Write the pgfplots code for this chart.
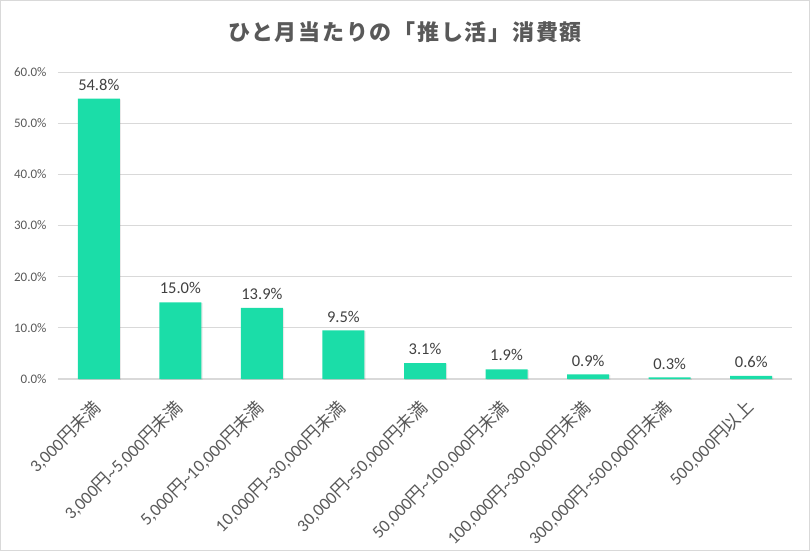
\documentclass[border=0pt]{standalone}
\usepackage{fontspec}
\setmainfont{Carlito}
\newfontfamily\cjk{Noto Sans CJK JP}
\usepackage{pgfplots}
\pgfplotsset{compat=1.18}
\usetikzlibrary{shadows}
\definecolor{barc}{HTML}{1BDDA8}
\definecolor{gridc}{HTML}{D9D9D9}
\definecolor{txt}{HTML}{595959}
\definecolor{lab}{HTML}{404040}
\newcommand{\T}{\textasciitilde}
\begin{document}
\begin{tikzpicture}
\useasboundingbox (-58pt,-172pt) rectangle (752pt,379pt);
\draw[gridc, line width=1.2pt] (-57.4pt,-171.4pt) rectangle (751.4pt,378.4pt);
\begin{axis}[
  at={(0pt,0pt)}, anchor=south west,
  scale only axis, width=734pt, height=307pt,
  xmin=-0.5, xmax=8.5, ymin=0, ymax=60,
  axis line style={draw=none},
  ytick={0,10,...,60},
  yticklabel={\pgfmathprintnumber[fixed,precision=1,zerofill]{\tick}\%},
  /pgf/number format/assume math mode=true,
  yticklabel style={font=\fontsize{13}{15}\selectfont, text=txt, xshift=-8pt},
  ymajorgrids, grid style={gridc, line width=1pt},
  major tick length=0pt,
  xtick=data,
  xticklabels={
    {3,000{\cjk 円未満}},
    {3,000{\cjk 円}\T5,000{\cjk 円未満}},
    {5,000{\cjk 円}\T10,000{\cjk 円未満}},
    {10,000{\cjk 円}\T30,000{\cjk 円未満}},
    {30,000{\cjk 円}\T50,000{\cjk 円未満}},
    {50,000{\cjk 円}\T100,000{\cjk 円未満}},
    {100,000{\cjk 円}\T300,000{\cjk 円未満}},
    {300,000{\cjk 円}\T500,000{\cjk 円未満}},
    {500,000{\cjk 円以上}}},
  xticklabel style={font=\fontsize{17.5}{19}\selectfont, text=txt, xshift=-7pt, yshift=-19pt, rotate=45, anchor=north east, inner sep=0pt},
  ybar, bar width=42pt,
  nodes near coords={\pgfmathprintnumber[fixed,precision=1,zerofill]{\pgfplotspointmeta}\%},
  nodes near coords style={font=\fontsize{16.5}{18}\selectfont, text=lab, anchor=south, inner sep=0pt, yshift=8pt},
  clip=false,
]
\draw[gridc, line width=1.2pt] (axis cs:-0.5,0) -- (axis cs:8.5,0);
\addplot[fill=barc, draw=none, drop shadow={shadow xshift=1.2pt, shadow yshift=-0.8pt, opacity=0.18}] coordinates {
  (0,54.8) (1,15.0) (2,13.9) (3,9.5) (4,3.1) (5,1.9) (6,0.9) (7,0.3) (8,0.6)};
\end{axis}
\node[text=txt, font=\cjk\bfseries\fontsize{22}{26}\selectfont\addfontfeature{LetterSpace=8}] at (347pt,347pt) {ひと月当たりの「推し活」消費額};
\end{tikzpicture}
\end{document}
